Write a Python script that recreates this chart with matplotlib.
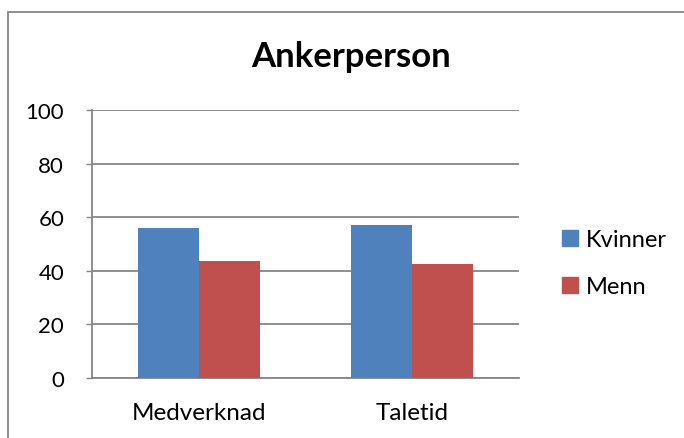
import matplotlib
matplotlib.use('Agg')
import matplotlib.pyplot as plt
from matplotlib.patches import Patch, Rectangle
import numpy as np

plt.rcParams['font.family'] = ['Lato', 'DejaVu Sans']

categories = ['Medverknad', 'Taletid']
series_names = ['Kvinner', 'Menn']
kvinner = [56.0, 57.0]
menn = [43.6, 42.7]
yticks = [0, 20, 40, 60, 80, 100]

blue = '#4F81BD'
red = '#C0504D'
grey = '#868686'

fig = plt.figure(figsize=(6.84, 4.39), dpi=100)
ax = fig.add_axes([92 / 684, 60 / 439, 427 / 684, 268 / 439])

x = np.arange(len(categories))
w = 0.2857
ax.bar(x - w / 2, kvinner, w, color=blue, zorder=3)
ax.bar(x + w / 2, menn, w, color=red, zorder=3)

ax.set_xlim(-0.5, 1.5)
ax.set_ylim(0, 100)
ax.set_yticks(yticks)
ax.set_xticks(x)
ax.set_xticklabels(categories)
ax.yaxis.grid(True, color=grey, linewidth=1.3, zorder=0)
ax.tick_params(axis='y', length=4, width=1, color=grey, pad=16, labelsize=16)
ax.tick_params(axis='x', length=0, pad=17, labelsize=17.5)
for s in ['top', 'right']:
    ax.spines[s].set_visible(False)
for s in ['left', 'bottom']:
    ax.spines[s].set_color(grey)
    ax.spines[s].set_linewidth(1.3)

fig.text(351 / 684, 1 - 57 / 439, 'Ankerperson', ha='center', va='center',
         fontsize=25, fontweight='bold')

handles = [Patch(color=blue), Patch(color=red)]
fig.legend(handles, series_names, loc='center left',
           bbox_to_anchor=(541 / 684, 1 - 264 / 439), frameon=False,
           fontsize=17, handlelength=0.65, handleheight=0.65,
           handletextpad=0.35, labelspacing=1.1)

# chart area border
fig.patches.append(Rectangle((7.5 / 684, -0.5), 2, 1.5 - 12.5 / 439,
                             transform=fig.transFigure, fill=False,
                             edgecolor=grey, linewidth=1.3))

fig.savefig('out.png', dpi=100)
